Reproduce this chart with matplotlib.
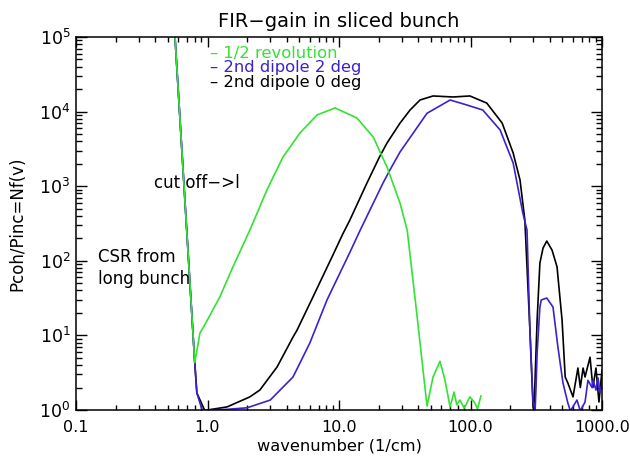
import matplotlib
matplotlib.use("Agg")
import matplotlib.pyplot as plt
from matplotlib.ticker import LogLocator, FixedLocator, FixedFormatter, NullFormatter

# ---- data ----
green_x = [0.566, 0.80, 0.877, 0.957, 1.24, 1.56, 2.1, 2.83, 3.75, 5.05, 6.8, 9.34, 13.7,
           18.2, 23.2, 29.1, 33.0, 39.0, 46.7, 51.9, 58.6, 64.0, 69.9, 75.0, 78.7, 83.0,
           89.6, 99.0, 108.0, 113.0, 120.0]
green_y = [1.0e5, 4.3, 10.8, 14.0, 32.7, 82.6, 258, 890, 2460, 5170, 9000, 11200, 8200,
           4570, 1800, 595, 258, 20.0, 1.13, 2.77, 4.5, 2.5, 1.1, 1.74, 1.17, 1.36,
           1.06, 1.5, 1.24, 1.03, 1.54]

blue_x = [0.566, 0.80, 0.83, 0.91, 1.4, 2.0, 3.0, 4.47, 6.0, 8.1, 12.1, 14.5, 21.6, 24.4,
          29.1, 46.7, 70.0, 94.0, 124.0, 168.0, 211.0, 250.0, 269.0, 283.0, 299.0, 310.0,
          315.0, 321.0, 337.0, 345.0, 380.0, 424.0, 462.0, 505.0, 550.0, 575.0, 645.0,
          684.0, 743.0, 782.0, 840.0, 855.0, 900.0, 933.0, 965.0, 1000.0]
blue_y = [1.0e5, 4.3, 1.69, 1.0, 1.02, 1.07, 1.36, 2.77, 7.9, 29.8, 130, 258, 1100, 1650,
          2870, 9500, 14300, 12250, 10500, 5670, 2050, 437, 258, 11.8, 1.3, 1.0,
          2.0, 5.8, 24, 29.8, 31.7, 24, 7.0, 2.3, 1.24, 0.97, 1.36,
          0.97, 1.28, 2.5, 2.0, 2.5, 1.85, 2.7, 1.7, 2.3]

black_x = [0.566, 0.80, 0.83, 0.95, 1.0, 1.41, 2.1, 2.5, 3.38, 4.47, 4.8, 6.3, 9.0, 10.7,
           12.1, 16.3, 20.3, 23.2, 29.1, 34.7, 41.3, 51.9, 73.6, 99.0, 133.0, 174.0,
           211.0, 238.0, 259.0, 283.0, 299.0, 304.0, 321.0, 337.0, 356.0, 380.0, 417.0,
           455.0, 497.0, 525.0, 550.0, 602.0, 656.0, 684.0, 718.0, 743.0, 811.0, 852.0,
           900.0, 948.0, 1000.0]
black_y = [1.0e5, 4.3, 1.69, 1.0, 1.0, 1.1, 1.5, 1.85, 3.77, 9.5, 11.8, 32, 120, 230,
           352, 1100, 2460, 3800, 7000, 10500, 14300, 16200, 15700, 16200, 13000, 7030,
           2790, 1210, 352, 11.8, 1.1, 1.0, 16, 93, 148, 184, 139,
           83, 16, 2.77, 2.3, 1.5, 3.65, 2.0, 3.65, 2.77, 5.1, 2.0,
           3.65, 1.28, 3.4]

xtick_vals = [0.1, 1.0, 10.0, 100.0, 1000.0]
xtick_labels = ["0.1", "1.0", "10.0", "100.0", "1000.0"]
legend_labels = ["1/2 revolution", "2nd dipole 2 deg", "2nd dipole 0 deg"]

GREEN = "#33e233"
BLUE = "#3a22cc"
BLACK = "#000000"

plt.rcParams['font.family'] = ['DejaVu Sans']
fig = plt.figure(figsize=(6.3, 4.57), dpi=100)
ax = fig.add_axes([76/630, 1-410/457, (602-76)/630, (410-37)/457])

ax.plot(black_x, black_y, color=BLACK, lw=1.2)
ax.plot(blue_x, blue_y, color=BLUE, lw=1.2)
ax.plot(green_x, green_y, color=GREEN, lw=1.2)

ax.set_xscale('log')
ax.set_yscale('log')
ax.set_xlim(0.1, 1000)
ax.set_ylim(1, 1e5)

ax.xaxis.set_major_locator(FixedLocator(xtick_vals))
ax.xaxis.set_major_formatter(FixedFormatter(xtick_labels))
ax.xaxis.set_minor_locator(LogLocator(base=10, subs=range(2, 10), numticks=20))
ax.xaxis.set_minor_formatter(NullFormatter())
ax.yaxis.set_minor_locator(LogLocator(base=10, subs=range(2, 10), numticks=20))
ax.yaxis.set_minor_formatter(NullFormatter())

ax.tick_params(axis='both', which='both', direction='in', top=True, right=True, width=1.0)
ax.tick_params(axis='x', which='major', length=7, pad=7, labelsize=11.5)
ax.tick_params(axis='x', which='minor', length=3.5)
ax.tick_params(axis='y', which='major', length=8, pad=4, labelsize=12.5)
ax.tick_params(axis='y', which='minor', length=4)
for s in ax.spines.values():
    s.set_linewidth(1.1)

ax.set_title("FIR\u2212gain in sliced bunch", fontsize=14, pad=7)
ax.set_xlabel("wavenumber (1/cm)", fontsize=11.7, labelpad=3)
ax.set_ylabel("Pcoh/Pinc=Nf(v)", fontsize=12, labelpad=9)

colors = [GREEN, BLUE, BLACK]
ys = [0.955, 0.917, 0.879]
for lab, c, yy in zip(legend_labels, colors, ys):
    ax.text(0.255, yy, "\u2013 " + lab, color=c, fontsize=11.8,
            transform=ax.transAxes, va='center', ha='left')

ax.text(0.392, 1100, "cut off\u2212>l", fontsize=12, va='center', ha='left')
ax.text(0.147, 113, "CSR from", fontsize=12, va='center', ha='left')
ax.text(0.147, 57, "long bunch", fontsize=12, va='center', ha='left')

fig.savefig("out.png", dpi=100)
